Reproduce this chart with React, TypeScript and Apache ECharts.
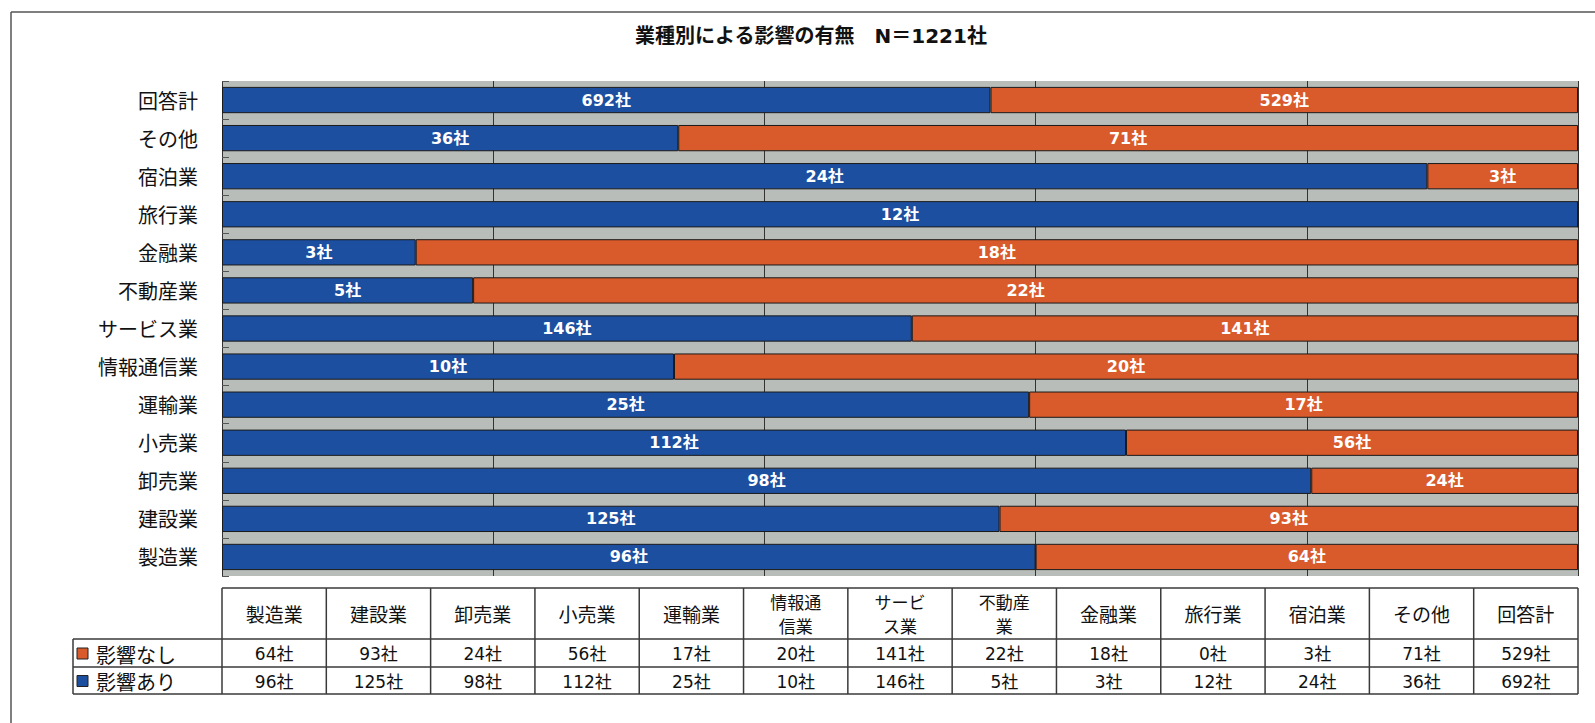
import React, { useEffect, useRef } from "react";
import * as echarts from "echarts";

const titleText = "業種別による影響の有無　N＝1221社";
const categories = ["製造業", "建設業", "卸売業", "小売業", "運輸業", "情報通信業", "サービス業", "不動産業", "金融業", "旅行業", "宿泊業", "その他", "回答計"];
const affected = [96, 125, 98, 112, 25, 10, 146, 5, 3, 12, 24, 36, 692];
const notAffected = [64, 93, 24, 56, 17, 20, 141, 22, 18, 0, 3, 71, 529];
const seriesNames = ["影響あり", "影響なし"];
const xTicks = [0, 20, 40, 60, 80, 100];
const unit = "社";

const BLUE = "#1c4fa0";
const ORANGE = "#d95a2b";
const FONT = "'Noto Sans CJK JP', 'Noto Sans', sans-serif";
const NUMFONT = "'DejaVu Sans', 'Noto Sans CJK JP', sans-serif";

const W = 1595;
const H = 723;
const GL = 222;
const GR = 1578;
const GT = 81;
const GB = 576;

export default function App() {
  const ref = useRef<HTMLDivElement>(null);
  useEffect(() => {
    document.body.style.margin = "0";
    const chart = echarts.init(ref.current!, null, { renderer: "svg" });
    const totals = categories.map((_, i) => affected[i] + notAffected[i]);
    const pctA = affected.map((v, i) => (v / totals[i]) * 100);
    const pctN = notAffected.map((v, i) => (v / totals[i]) * 100);

    const colW = (GR - GL) / categories.length;
    const tTop = 588;
    const r1 = 639;
    const r2 = 667;
    const tBot = 694;
    const legL = 73;
    const lineStyle = { stroke: "#3a3a3a", lineWidth: 1.5 };
    const g: any[] = [];
    g.push({ type: "line", shape: { x1: 11, y1: 12, x2: W, y2: 12 }, style: { stroke: "#555", lineWidth: 1.5 } });
    g.push({ type: "line", shape: { x1: 11, y1: 12, x2: 11, y2: H }, style: { stroke: "#555", lineWidth: 1.5 } });
    g.push({ type: "line", shape: { x1: GL, y1: tTop, x2: GR, y2: tTop }, style: lineStyle });
    [r1, r2, tBot].forEach((y) => g.push({ type: "line", shape: { x1: legL, y1: y, x2: GR, y2: y }, style: lineStyle }));
    g.push({ type: "line", shape: { x1: legL, y1: r1, x2: legL, y2: tBot }, style: lineStyle });
    for (let i = 0; i <= categories.length; i++) {
      const x = GL + i * colW;
      g.push({ type: "line", shape: { x1: x, y1: tTop, x2: x, y2: tBot }, style: lineStyle });
    }
    categories.forEach((c, i) => {
      const cx = GL + (i + 0.5) * colW;
      const mid = (tTop + r1) / 2;
      if (c.length > 3) {
        g.push({
          type: "text",
          x: cx,
          y: mid - 12,
          style: { text: c.slice(0, 3), fontSize: 17, fontFamily: FONT, fill: "#111", align: "center", verticalAlign: "middle" },
        });
        g.push({
          type: "text",
          x: cx,
          y: mid + 12,
          style: { text: c.slice(3), fontSize: 17, fontFamily: FONT, fill: "#111", align: "center", verticalAlign: "middle" },
        });
      } else {
        g.push({
          type: "text",
          x: cx,
          y: mid,
          style: { text: c, fontSize: 19, fontFamily: FONT, fill: "#111", align: "center", verticalAlign: "middle" },
        });
      }
      g.push({
        type: "text",
        x: cx,
        y: (r1 + r2) / 2 + 1,
        style: { text: notAffected[i] + unit, fontSize: 17, fontFamily: NUMFONT, fill: "#111", align: "center", verticalAlign: "middle" },
      });
      g.push({
        type: "text",
        x: cx,
        y: (r2 + tBot) / 2 + 1,
        style: { text: affected[i] + unit, fontSize: 17, fontFamily: NUMFONT, fill: "#111", align: "center", verticalAlign: "middle" },
      });
    });
    const legendRows = [
      { name: seriesNames[1], color: ORANGE, y: (r1 + r2) / 2 },
      { name: seriesNames[0], color: BLUE, y: (r2 + tBot) / 2 },
    ];
    legendRows.forEach((l) => {
      g.push({ type: "rect", shape: { x: 77, y: l.y - 5, width: 11, height: 11 }, style: { fill: l.color, stroke: "#222", lineWidth: 1 } });
      g.push({
        type: "text",
        x: 96,
        y: l.y + 1,
        style: { text: l.name, fontSize: 20, fontFamily: FONT, fill: "#111", align: "left", verticalAlign: "middle" },
      });
    });

    const labelFor = (arr: number[]) => ({
      show: true,
      position: "inside",
      color: "#fff",
      fontSize: 16,
      fontWeight: "bold",
      fontFamily: NUMFONT,
      formatter: (p: any) => (arr[p.dataIndex] > 0 ? arr[p.dataIndex] + unit : ""),
    });

    chart.setOption({
      animation: false,
      backgroundColor: "#fff",
      title: {
        text: titleText,
        left: 806,
        textAlign: "center",
        top: 21,
        textStyle: { fontSize: 20, fontWeight: "bold", fontFamily: NUMFONT, color: "#111" },
      },
      grid: {
        left: GL,
        right: W - GR,
        top: GT,
        bottom: H - GB,
        show: true,
        backgroundColor: "#b9bdb9",
        borderWidth: 0,
      },
      xAxis: {
        type: "value",
        min: xTicks[0],
        max: xTicks[xTicks.length - 1],
        interval: xTicks[1] - xTicks[0],
        axisLabel: { show: false },
        axisLine: { show: false },
        axisTick: { show: false },
        splitLine: { show: true, lineStyle: { color: "#333", width: 1 } },
      },
      yAxis: {
        type: "category",
        data: categories,
        axisLine: { show: false },
        axisTick: { show: true, inside: true, length: 7, lineStyle: { color: "#555" } },
        axisLabel: { fontSize: 20, color: "#111", fontFamily: FONT, margin: 24 },
      },
      series: [
        {
          name: seriesNames[0],
          type: "bar",
          stack: "total",
          data: pctA,
          barCategoryGap: "31%",
          itemStyle: { color: BLUE, borderColor: "#1a1a1a", borderWidth: 1 },
          label: labelFor(affected),
        },
        {
          name: seriesNames[1],
          type: "bar",
          stack: "total",
          data: pctN,
          barCategoryGap: "31%",
          itemStyle: { color: ORANGE, borderColor: "#1a1a1a", borderWidth: 1 },
          label: labelFor(notAffected),
        },
      ],
      graphic: g,
    });
    return () => chart.dispose();
  }, []);
  return <div ref={ref} style={{ width: W, height: H }} />;
}
